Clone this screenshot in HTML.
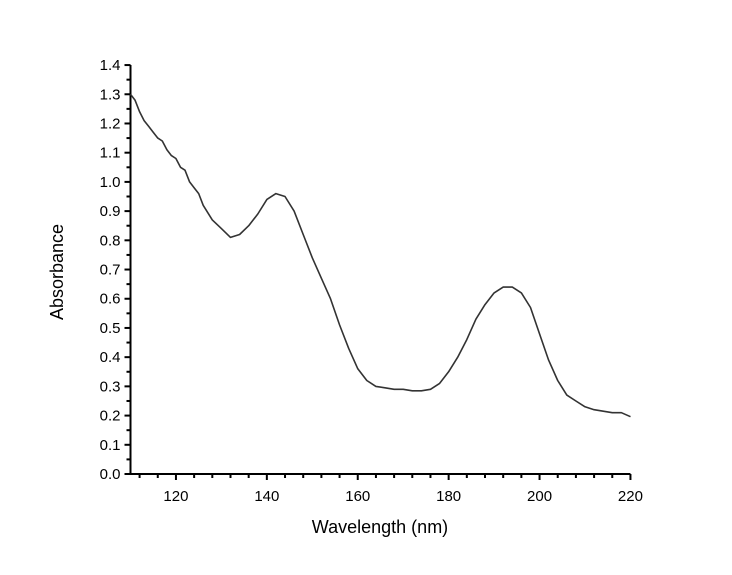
<!DOCTYPE html>
<html><head><meta charset="utf-8"><style>
body{margin:0;background:#fff;}
svg text{font-family:"Liberation Sans",Arial,sans-serif;}
</style></head><body>
<svg id="chart" width="732" height="570" xmlns="http://www.w3.org/2000/svg"></svg>
<script>
const wavelengths=[110,111,112,113,114,115,116,117,118,119,120,121,122,123,124,125,126,128,130,132,134,136,138,140,142,144,146,148,150,152,154,156,158,160,162,164,166,168,170,172,174,176,178,180,182,184,186,188,190,192,194,196,198,200,202,204,206,208,210,212,214,216,218,220];
const absorbance=[1.30,1.28,1.24,1.21,1.19,1.17,1.15,1.14,1.11,1.09,1.08,1.05,1.04,1.00,0.98,0.96,0.92,0.87,0.84,0.81,0.82,0.85,0.89,0.94,0.96,0.95,0.90,0.82,0.74,0.67,0.60,0.51,0.43,0.36,0.32,0.30,0.295,0.29,0.29,0.285,0.285,0.29,0.31,0.35,0.40,0.46,0.53,0.58,0.62,0.64,0.64,0.62,0.57,0.48,0.39,0.32,0.27,0.25,0.23,0.22,0.215,0.21,0.21,0.196];
const xTicks=[120,140,160,180,200,220];
const yTicks=[0.0,0.1,0.2,0.3,0.4,0.5,0.6,0.7,0.8,0.9,1.0,1.1,1.2,1.3,1.4];
const NS="http://www.w3.org/2000/svg";
const svg=document.getElementById('chart');
const X0=130.5,XPX=4.545,Y0=474,YPX=292.1;
const xs=v=>X0+(v-110)*XPX;
const ys=v=>Y0-v*YPX;
function el(t,a,p){const e=document.createElementNS(NS,t);for(const k in a)e.setAttribute(k,a[k]);(p||svg).appendChild(e);return e;}
const ax=el('path',{d:`M${X0} ${ys(1.4)}V${Y0}H${xs(220)}`,stroke:'#000','stroke-width':2,fill:'none'});


for(let v=112;v<=220;v+=2){if(v%4!==0)continue;const maj=xTicks.includes(v);
const t=el('line',{x1:xs(v),x2:xs(v),y1:Y0,y2:Y0+(maj?6:4),stroke:'#000','stroke-width':2});

}
xTicks.forEach(v=>{const t=el('text',{x:xs(v),y:Y0+27,'text-anchor':'middle','font-size':15});t.textContent=v;

});
for(let i=0;i<=28;i++){const v=i*0.05;const maj=i%2===0;
const t=el('line',{x1:X0-(maj?6:4),x2:X0,y1:ys(v),y2:ys(v),stroke:'#000','stroke-width':2});

}
yTicks.forEach(v=>{const t=el('text',{x:X0-10,y:ys(v)+5,'text-anchor':'end','font-size':15});t.textContent=v.toFixed(1);

});
const xt=el('text',{x:380,y:533,'text-anchor':'middle','font-size':18});xt.textContent='Wavelength (nm)';


const yt=el('text',{x:63,y:272,'text-anchor':'middle','font-size':18,transform:'rotate(-90 63 272)'});yt.textContent='Absorbance';


const d=wavelengths.map((w,i)=>(i?'L':'M')+xs(w).toFixed(1)+' '+ys(absorbance[i]).toFixed(1)).join('');
const ln=el('path',{d:d,stroke:'#333','stroke-width':1.6,fill:'none','stroke-linejoin':'round'});


</script>
</body></html>
